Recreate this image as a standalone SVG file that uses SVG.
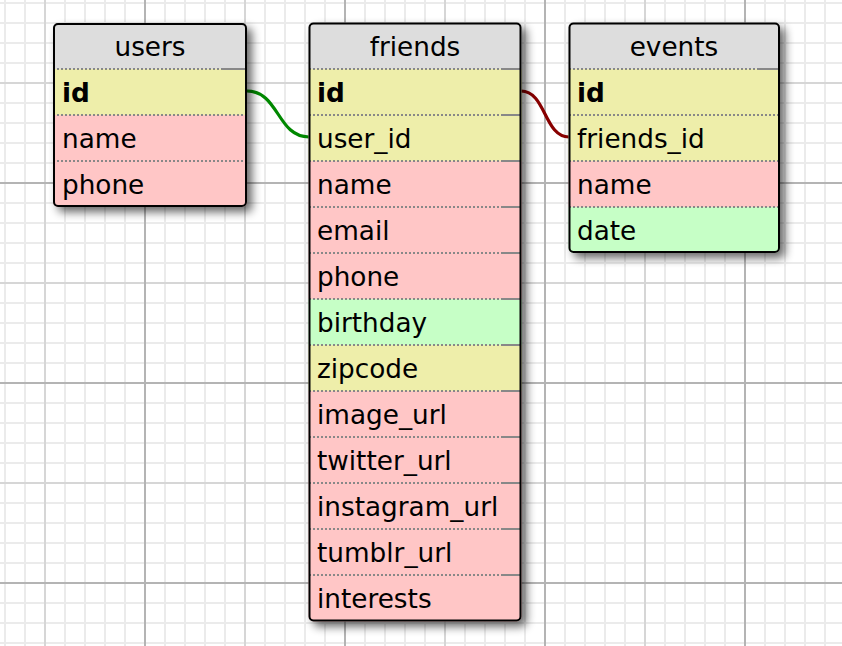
<svg xmlns="http://www.w3.org/2000/svg" width="842" height="646" viewBox="0 0 842 646">
<defs>
<style>
.hdr{fill:#dddddd}
.pk{fill:#eeeeaa}
.str{fill:#ffc6c6}
.dt{fill:#c6ffc6}
.box{fill:none;stroke:#000;stroke-width:2}
.sep{stroke:#888;stroke-width:2;stroke-dasharray:2 2}
.sol{stroke:#888;stroke-width:2}
.t{font-family:"DejaVu Sans","Verdana",sans-serif;font-size:26.3px;fill:#000}
.b{font-weight:bold}
.h{text-anchor:middle}
.shadow{fill:#000;opacity:0.6;filter:url(#blur)}
.rel{fill:none;stroke-width:3.2}
</style>
<pattern id="fine" width="20" height="20" patternUnits="userSpaceOnUse">
<rect x="4" y="0" width="2" height="20" fill="#ebebeb"/>
<rect x="0" y="2" width="20" height="2" fill="#ebebeb"/>
</pattern>
<pattern id="major" width="200" height="200" patternUnits="userSpaceOnUse">
<rect x="44" y="0" width="2" height="200" fill="#d6d6d6"/>
<rect x="0" y="82" width="200" height="2" fill="#d6d6d6"/>
<rect x="144" y="0" width="2" height="200" fill="#b4b4b4"/>
<rect x="0" y="182" width="200" height="2" fill="#b4b4b4"/>
</pattern>
<filter id="blur" x="-20%" y="-20%" width="140%" height="140%">
<feGaussianBlur stdDeviation="5"/>
</filter>
<clipPath id="cu"><rect x="53" y="23" width="194" height="184" rx="5"/></clipPath>
<clipPath id="cf"><rect x="308.5" y="22.5" width="213" height="599" rx="5"/></clipPath>
<clipPath id="ce"><rect x="568.5" y="22.5" width="211.5" height="230.5" rx="5"/></clipPath>
</defs>

<g id="grid">
<rect width="842" height="646" fill="#fff"/>
<rect width="842" height="646" fill="url(#fine)"/>
<rect width="842" height="646" fill="url(#major)"/>
</g>

<g id="connectors">
<path class="rel" stroke="#008800" d="M247,91 C279,91 277,137 309,137"/>
<path class="rel" stroke="#880000" d="M521,91 C546,91 544,137 569,137"/>
</g>

<g id="users">
<rect class="shadow" x="58" y="28" width="194" height="184" rx="5"/>
<g clip-path="url(#cu)">
<rect class="hdr" x="53" y="23" width="194" height="46"/>
<rect class="pk" x="53" y="69" width="194" height="46"/>
<rect class="str" x="53" y="115" width="194" height="92"/>
<line class="sep" x1="53" y1="69" x2="247" y2="69"/>
<line class="sol" x1="222" y1="69" x2="247" y2="69"/>
<line class="sep" x1="53" y1="115" x2="247" y2="115"/>
<line class="sep" x1="53" y1="161" x2="247" y2="161"/>
</g>
<rect class="box" x="54" y="24" width="192" height="182" rx="4"/>
<text class="t h" x="150" y="56">users</text>
<text class="t b" x="62" y="102">id</text>
<text class="t" x="62" y="148">name</text>
<text class="t" x="62" y="194">phone</text>
</g>

<g id="friends">
<rect class="shadow" x="313.5" y="27.5" width="213" height="599" rx="5"/>
<g clip-path="url(#cf)">
<rect class="hdr" x="308" y="22" width="214" height="47"/>
<rect class="pk" x="308" y="69" width="214" height="92"/>
<rect class="str" x="308" y="161" width="214" height="138"/>
<rect class="dt" x="308" y="299" width="214" height="46"/>
<rect class="pk" x="308" y="345" width="214" height="46"/>
<rect class="str" x="308" y="391" width="214" height="231"/>
<g>
<line class="sep" x1="309" y1="69" x2="521" y2="69"/>
<line class="sep" x1="309" y1="115" x2="521" y2="115"/>
<line class="sep" x1="309" y1="161" x2="521" y2="161"/>
<line class="sep" x1="309" y1="207" x2="521" y2="207"/>
<line class="sep" x1="309" y1="253" x2="521" y2="253"/>
<line class="sep" x1="309" y1="299" x2="521" y2="299"/>
<line class="sep" x1="309" y1="345" x2="521" y2="345"/>
<line class="sep" x1="309" y1="391" x2="521" y2="391"/>
<line class="sep" x1="309" y1="437" x2="521" y2="437"/>
<line class="sep" x1="309" y1="483" x2="521" y2="483"/>
<line class="sep" x1="309" y1="529" x2="521" y2="529"/>
<line class="sep" x1="309" y1="575" x2="521" y2="575"/>
<path class="sol" d="M502,69H521M502,115H521M502,161H521M502,207H521M502,253H521M502,299H521M502,345H521M502,391H521M502,437H521M502,483H521M502,529H521M502,575H521"/>
</g>
</g>
<rect class="box" x="309.5" y="23.5" width="211" height="597" rx="4"/>
<text class="t h" x="415" y="56">friends</text>
<text class="t b" x="317" y="102">id</text>
<text class="t" x="317" y="148">user_id</text>
<text class="t" x="317" y="194">name</text>
<text class="t" x="317" y="240">email</text>
<text class="t" x="317" y="286">phone</text>
<text class="t" x="317" y="332">birthday</text>
<text class="t" x="317" y="378">zipcode</text>
<text class="t" x="317" y="424">image_url</text>
<text class="t" x="317" y="470">twitter_url</text>
<text class="t" x="317" y="516">instagram_url</text>
<text class="t" x="317" y="562">tumblr_url</text>
<text class="t" x="317" y="608">interests</text>
</g>

<g id="events">
<rect class="shadow" x="573.5" y="27.5" width="211.5" height="230.5" rx="5"/>
<g clip-path="url(#ce)">
<rect class="hdr" x="568" y="22" width="213" height="47"/>
<rect class="pk" x="568" y="69" width="213" height="92"/>
<rect class="str" x="568" y="161" width="213" height="46"/>
<rect class="dt" x="568" y="207" width="213" height="47"/>
<line class="sep" x1="569" y1="69" x2="780" y2="69"/>
<line class="sol" x1="758" y1="69" x2="780" y2="69"/>
<line class="sep" x1="569" y1="115" x2="780" y2="115"/>
<line class="sep" x1="569" y1="161" x2="780" y2="161"/>
<line class="sep" x1="569" y1="207" x2="780" y2="207"/>
</g>
<rect class="box" x="569.5" y="23.5" width="209.5" height="228.5" rx="4"/>
<text class="t h" x="674" y="56">events</text>
<text class="t b" x="577" y="102">id</text>
<text class="t" x="577" y="148">friends_id</text>
<text class="t" x="577" y="194">name</text>
<text class="t" x="577" y="240">date</text>
</g>
</svg>
